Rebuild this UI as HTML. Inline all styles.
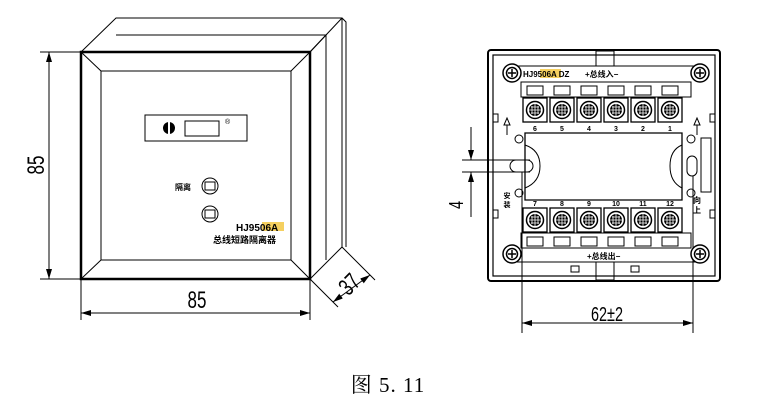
<!DOCTYPE html>
<html><head><style>body{margin:0;background:#fff}svg{display:block}</style></head><body>
<svg width="770" height="410" viewBox="0 0 770 410" xmlns="http://www.w3.org/2000/svg" font-family="Liberation Sans, Noto Sans CJK SC, sans-serif">
<defs>
<marker id="a" viewBox="0 0 10 6" refX="10" refY="3" markerWidth="10" markerHeight="6" orient="auto-start-reverse" markerUnits="userSpaceOnUse"><path d="M0,0L10,3L0,6z" fill="#000"/></marker>
<g id="scr"><circle r="9" fill="#fff" stroke="#000" stroke-width="1.5"/><circle r="5.5" fill="none" stroke="#000" stroke-width="1.5"/><path d="M-4,0H4M0,-4V4" stroke="#000" stroke-width="1.5"/></g>
<g id="term"><rect x="0" y="0" width="24" height="24" fill="#fff" stroke="#000" stroke-width="1.3"/><circle cx="12" cy="12" r="8.5" fill="#fff" stroke="#000" stroke-width="1.5"/><circle cx="12" cy="12" r="6" fill="#000"/><path d="M6,12H18M12,6V18M8,9H16M8,15H16M9,8V16M15,8V16" stroke="#fff" stroke-width="0.8"/></g>
</defs>
<g fill="none" stroke="#000" stroke-width="1">
<path d="M81,52L116,18H342V247L310,279"/>
<path d="M310,52L326,35H116M326,35V260M342,18L346,22V247"/>
<path d="M310,52L342,18"/>
<rect x="81" y="52" width="229" height="227" stroke-width="2.5"/>
<rect x="101" y="71" width="190" height="189"/>
<path d="M81,52L101,71M310,52L291,71M81,279L101,260M310,279L291,260"/>
<rect x="145" y="115" width="102" height="26"/>
<rect x="185" y="121" width="34" height="15"/>
<circle cx="210" cy="186" r="8"/><rect x="205" y="182" width="10" height="8"/>
<circle cx="210" cy="214" r="8"/><rect x="205" y="210" width="10" height="8"/>
<path d="M40,52H81M40,279H81"/>
<path d="M49,52V279" marker-start="url(#a)" marker-end="url(#a)"/>
<path d="M81,279V320M310,279V320"/>
<path d="M81,313H310" marker-start="url(#a)" marker-end="url(#a)"/>
<path d="M310,279L338,307M342,247L375,280"/>
<path d="M333,302L370,275" marker-start="url(#a)" marker-end="url(#a)"/>
</g>
<circle cx="169" cy="128" r="6"/><rect x="168" y="122" width="2" height="12" fill="#fff"/>
<text x="225" y="124" font-size="7">®</text>
<text x="183" y="190" font-size="8" font-weight="bold" text-anchor="middle">隔离</text>
<rect x="262" y="222" width="22" height="9" fill="#f5d060"/>
<text x="236" y="231" font-size="10" font-weight="bold">HJ9506A</text>
<text x="213" y="243" font-size="9" font-weight="bold">总线短路隔离器</text>
<text transform="translate(44,165) rotate(-90) scale(0.85,1.2)" font-size="20" text-anchor="middle">85</text>
<text transform="translate(197,308) scale(0.85,1.2)" font-size="20" text-anchor="middle">85</text>
<text transform="translate(355,290) rotate(-45) scale(0.85,1.2)" font-size="20" text-anchor="middle">37</text>

<g fill="none" stroke="#000">
<rect x="488" y="50" width="232" height="231" rx="3" stroke-width="2"/>
<rect x="493" y="55" width="222" height="221" stroke-width="1.2"/>
<path d="M517,66H700M517,262H700" stroke-width="1"/>
<rect x="521" y="82" width="170" height="15"/>
<rect x="521" y="233" width="170" height="15"/>
<rect x="596" y="51" width="18" height="15"/><rect x="596" y="262" width="18" height="18"/>
<rect x="571" y="266" width="8" height="6"/><rect x="631" y="266" width="8" height="6"/>
<path d="M525,133H682V200H525Z" stroke-width="1.3"/>
<path d="M525,145Q540,150 540,166Q540,182 525,188M682,145Q670,150 670,166Q670,182 682,188"/>
<circle cx="519" cy="139" r="4"/><circle cx="691" cy="139" r="4"/><circle cx="519" cy="193" r="4"/><circle cx="691" cy="193" r="4"/>
<rect x="510" y="160" width="23" height="12" rx="6"/>
<rect x="687" y="156" width="10" height="20" rx="5"/>
<rect x="701" y="138" width="10" height="54"/>
<path d="M493,114H498V122H493M715,114H710V122H715M493,210H498V218H493M715,210H710V218H715"/>
<path d="M507,135V125H504L507,118L510,125H507M697,135V125H694L697,118L700,125H697"/>
<path d="M462,160H530M462,172H530"/>
<path d="M471,127V160" marker-end="url(#a)"/><path d="M471,217V172" marker-end="url(#a)"/>
<path d="M522,172V333M693,176V333"/>
<path d="M522,323H693" marker-start="url(#a)" marker-end="url(#a)"/>
</g>
<g>
<use href="#term" x="523" y="98"/><use href="#term" x="550" y="98"/><use href="#term" x="577" y="98"/><use href="#term" x="604" y="98"/><use href="#term" x="631" y="98"/><use href="#term" x="658" y="98"/>
<use href="#term" x="523" y="208"/><use href="#term" x="550" y="208"/><use href="#term" x="577" y="208"/><use href="#term" x="604" y="208"/><use href="#term" x="631" y="208"/><use href="#term" x="658" y="208"/>
</g>
<g fill="#fff" stroke="#000" stroke-width="1"><rect x="527" y="237" width="16" height="9"/><rect x="554" y="237" width="16" height="9"/><rect x="581" y="237" width="16" height="9"/><rect x="608" y="237" width="16" height="9"/><rect x="635" y="237" width="16" height="9"/><rect x="662" y="237" width="16" height="9"/>
<rect x="527" y="86" width="16" height="9"/><rect x="554" y="86" width="16" height="9"/><rect x="581" y="86" width="16" height="9"/><rect x="608" y="86" width="16" height="9"/><rect x="635" y="86" width="16" height="9"/><rect x="662" y="86" width="16" height="9"/></g>
<use href="#scr" x="512" y="73"/><use href="#scr" x="700" y="73"/><use href="#scr" x="512" y="254"/><use href="#scr" x="700" y="254"/>
<rect x="540" y="69" width="21" height="9" fill="#f5d060"/>
<text x="523" y="77" font-size="8" font-weight="bold">HJ9506A DZ</text>
<text x="585" y="77" font-size="8" font-weight="bold">+总线入−</text>
<text x="587" y="259" font-size="8" font-weight="bold">+总线出−</text>
<g font-size="7" font-weight="bold" text-anchor="middle">
<text x="535" y="131">6</text><text x="562" y="131">5</text><text x="589" y="131">4</text><text x="616" y="131">3</text><text x="643" y="131">2</text><text x="670" y="131">1</text>
<text x="535" y="206">7</text><text x="562" y="206">8</text><text x="589" y="206">9</text><text x="616" y="206">10</text><text x="643" y="206">11</text><text x="670" y="206">12</text>
</g>
<text x="507" y="198" font-size="7" font-weight="bold" text-anchor="middle">安</text><text x="507" y="207" font-size="7" font-weight="bold" text-anchor="middle">装</text>
<text x="697" y="203" font-size="8" font-weight="bold" text-anchor="middle">向</text><text x="697" y="213" font-size="8" font-weight="bold" text-anchor="middle">上</text>
<text transform="translate(463,205) rotate(-90) scale(0.85,1.2)" font-size="17" text-anchor="middle">4</text>
<text transform="translate(607,321) scale(0.85,1.2)" font-size="17" text-anchor="middle">62±2</text>
<text x="388" y="392" font-size="21" letter-spacing="1" font-family="Liberation Serif, Noto Serif CJK SC, serif" text-anchor="middle">图 5. 11</text>
</svg>
</body></html>
